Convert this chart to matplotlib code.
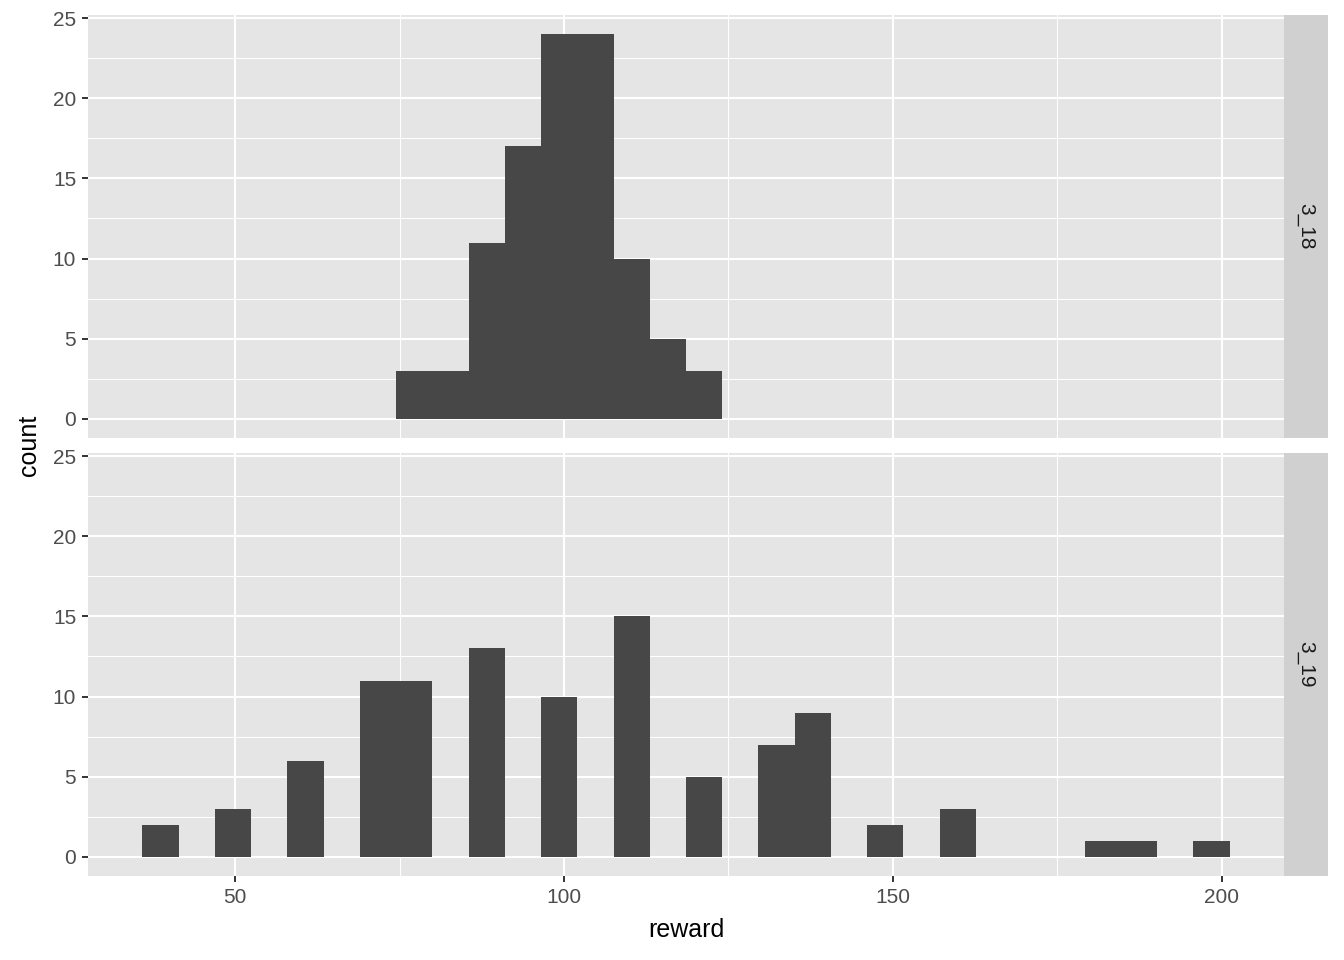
import numpy as np
import matplotlib
matplotlib.use("Agg")
import matplotlib.pyplot as plt
from matplotlib.ticker import MultipleLocator

plt.rcParams['font.family'] = ['Liberation Sans', 'DejaVu Sans']

# histogram bins (30 bins over the reward range)
bin_lo = 35.9
bin_hi = 201.2
n_bins = 30

panels = ["3_18", "3_19"]

counts_3_18 = [0, 0, 0, 0, 0, 0, 0, 3, 3, 11, 17, 24, 24, 10, 5, 3,
               0, 0, 0, 0, 0, 0, 0, 0, 0, 0, 0, 0, 0, 0]
counts_3_19 = [2, 0, 3, 0, 6, 0, 11, 11, 0, 13, 0, 10, 0, 15, 0, 5,
               0, 7, 9, 0, 2, 0, 3, 0, 0, 0, 1, 1, 0, 1]

x_ticks = [50, 100, 150, 200]
y_ticks = [0, 5, 10, 15, 20, 25]

edges = np.linspace(bin_lo, bin_hi, n_bins + 1)
width = edges[1] - edges[0]
pad = (bin_hi - bin_lo) * 0.05
ymax = max(max(counts_3_18), max(counts_3_19))

fig = plt.figure(figsize=(13.44, 9.6), dpi=100)
W, H = 1344, 960
left, right = 88, 1284
strip_r = 1328
boxes = [(15, 438), (453, 876)]

for name, counts, (top, bot) in zip(panels, [counts_3_18, counts_3_19], boxes):
    ax = fig.add_axes([left / W, 1 - bot / H, (right - left) / W, (bot - top) / H])
    ax.set_facecolor('#E5E5E5')
    ax.bar(edges[:-1], counts, width=width, align='edge', color='#474747', linewidth=0, zorder=3)
    ax.set_xlim(bin_lo - pad, bin_hi + pad)
    ax.set_ylim(-ymax * 0.05, ymax * 1.05)
    ax.set_xticks(x_ticks)
    ax.set_yticks(y_ticks)
    ax.xaxis.set_minor_locator(MultipleLocator(25))
    ax.yaxis.set_minor_locator(MultipleLocator(2.5))
    ax.grid(which='major', color='white', linewidth=1.5, zorder=1)
    ax.grid(which='minor', color='white', linewidth=0.75, zorder=1)
    ax.set_axisbelow(True)
    for s in ax.spines.values():
        s.set_visible(False)
    ax.tick_params(which='major', length=4.5, width=1.4, color='#333333',
                   labelcolor='#4D4D4D', labelsize=15, pad=4)
    ax.tick_params(which='minor', length=0)
    if name == panels[0]:
        ax.tick_params(axis='x', labelbottom=False, length=0)
    else:
        ax.set_xlabel('reward', fontsize=18, color='black', labelpad=8)

    sax = fig.add_axes([right / W, 1 - bot / H, (strip_r - right) / W, (bot - top) / H])
    sax.set_facecolor('#D0D0D0')
    sax.set_xticks([])
    sax.set_yticks([])
    for s in sax.spines.values():
        s.set_visible(False)
    sax.text(0.5, 0.5, name, rotation=-90, ha='center', va='center',
             fontsize=15, color='#1A1A1A', transform=sax.transAxes)

fig.text(29 / W, 1 - 445 / H, 'count', rotation=90, ha='center', va='center',
         fontsize=18, color='black')

fig.savefig('out.png', dpi=100)
